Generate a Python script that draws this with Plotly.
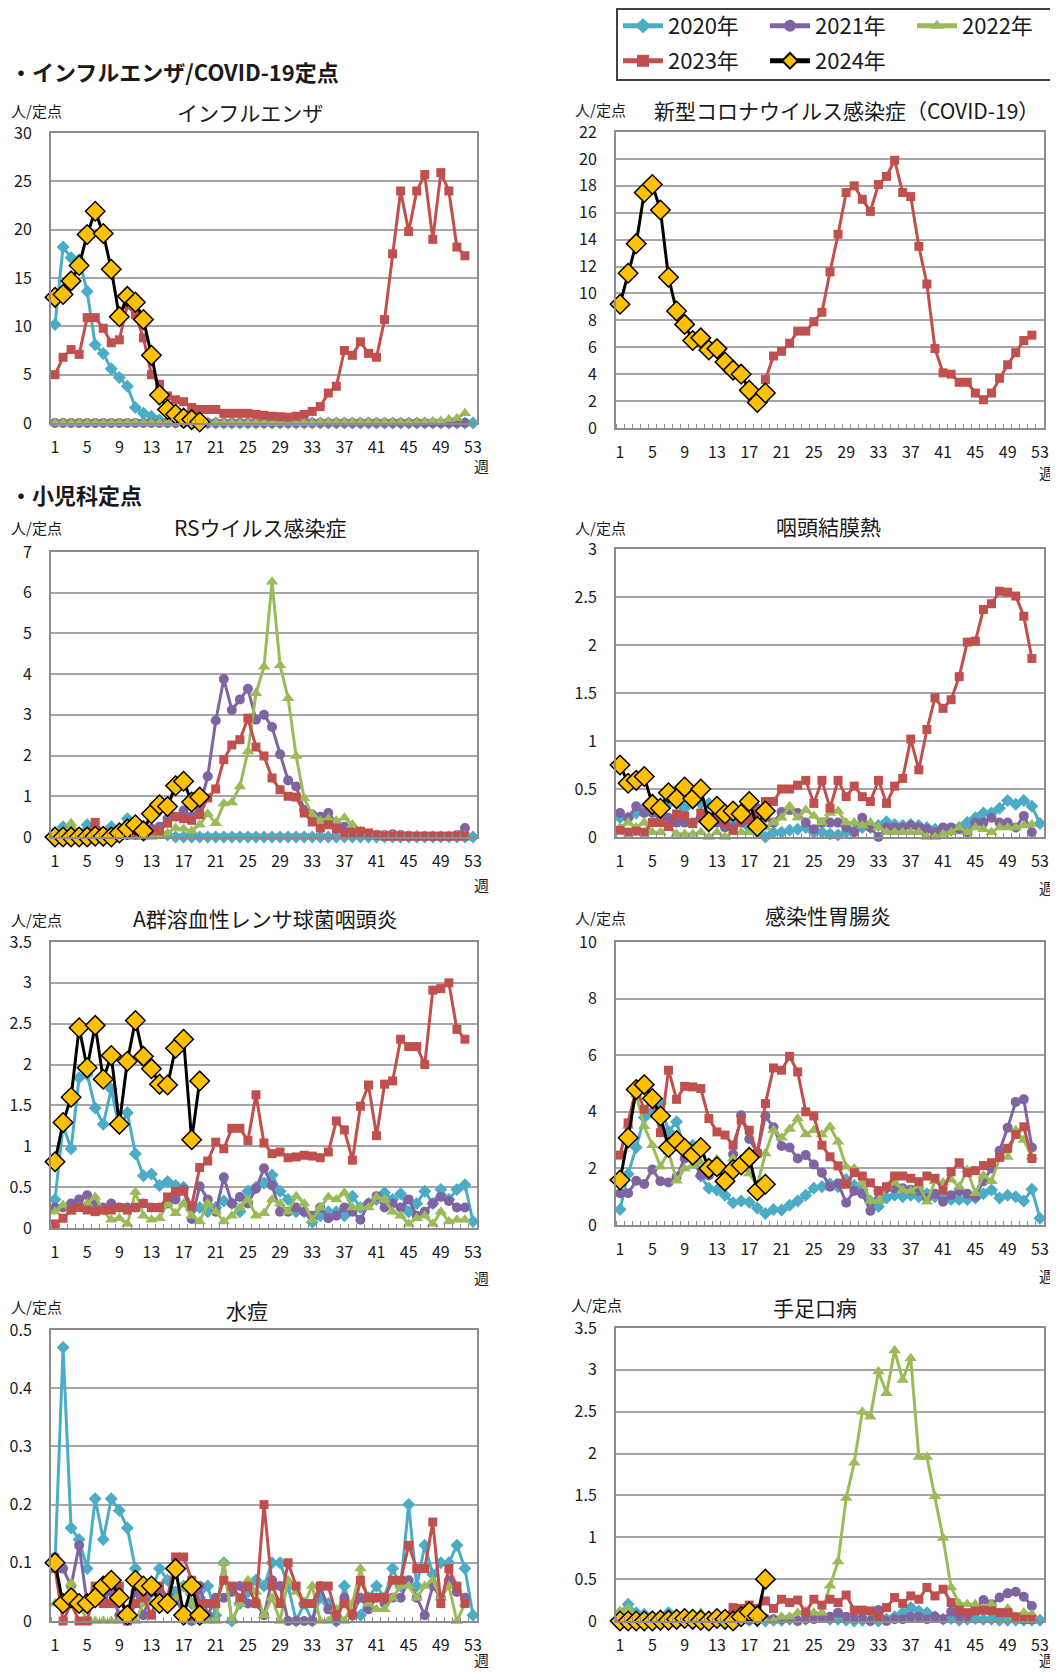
import plotly.graph_objects as go

# ---------------- data ----------------
weeks = list(range(1, 54))
years = ["2020年", "2021年", "2022年", "2023年", "2024年"]

# インフルエンザ
flu_2020 = [10.2, 18.2, 17.1, 16.9, 13.6, 8.1, 7.2, 5.6, 4.7, 3.8, 1.6, 1.0, 0.7, 0.3, 0.1, 0.05, 0.05, 0.0, 0.0, 0.0,
            0.0, 0.0, 0.0, 0.0, 0.0, 0.0, 0.0, 0.0, 0.0, 0.0, 0.0, 0.0, 0.0, 0.0, 0.0, 0.0, 0.0, 0.0, 0.0, 0.0,
            0.0, 0.0, 0.0, 0.0, 0.0, 0.0, 0.0, 0.0, 0.0, 0.0, 0.0, 0.0, 0.0]
flu_2021 = [0.0, 0.0, 0.0, 0.0, 0.0, 0.0, 0.0, 0.0, 0.0, 0.0, 0.0, 0.0, 0.0, 0.0, 0.0, 0.0, 0.0, 0.0, 0.0, 0.0,
            0.0, 0.0, 0.0, 0.0, 0.0, 0.0, 0.0, 0.0, 0.0, 0.0, 0.0, 0.0, 0.0, 0.0, 0.0, 0.0, 0.0, 0.0, 0.0, 0.0,
            0.0, 0.0, 0.0, 0.0, 0.0, 0.0, 0.0, 0.0, 0.0, 0.0, 0.0, 0.0]
flu_2022 = [0.0, 0.0, 0.0, 0.0, 0.0, 0.0, 0.0, 0.0, 0.0, 0.0, 0.0, 0.0, 0.0, 0.0, 0.0, 0.0, 0.0, 0.0, 0.0, 0.0,
            0.0, 0.0, 0.0, 0.0, 0.0, 0.0, 0.0, 0.0, 0.0, 0.0, 0.0, 0.0, 0.0, 0.05, 0.05, 0.05, 0.05, 0.05, 0.05, 0.05,
            0.05, 0.05, 0.05, 0.05, 0.05, 0.05, 0.1, 0.15, 0.2, 0.4, 0.5, 1.0]
flu_2023 = [5.0, 6.8, 7.6, 7.1, 10.9, 10.9, 9.8, 8.3, 8.6, 12.2, 11.2, 8.8, 5.0, 4.0, 2.8, 2.4, 2.2, 1.6, 1.4, 1.4,
            1.4, 1.0, 1.0, 1.0, 1.0, 0.9, 0.8, 0.7, 0.65, 0.6, 0.7, 0.9, 1.2, 1.7, 3.1, 3.8, 7.5, 7.0, 8.4, 7.2,
            6.8, 10.7, 17.5, 24.0, 19.8, 24.0, 25.7, 19.0, 25.9, 24.0, 18.2, 17.3]
flu_2024 = [13.0, 13.3, 14.7, 16.3, 19.5, 21.9, 19.6, 15.9, 11.0, 13.1, 12.5, 10.7, 7.0, 2.9, 1.4, 0.9, 0.5, 0.35, 0.1]

# 新型コロナウイルス感染症
cov_2023 = [None, None, None, None, None, None, None, None, None, None, None, None, None, None, None, None, None, None,
            3.6, 5.35, 5.7, 6.3, 7.2, 7.2, 7.9, 8.6, 11.6, 14.4, 17.5, 18.0, 17.0, 16.1, 18.1, 18.7, 19.9, 17.5,
            17.2, 13.5, 10.7, 5.9, 4.1, 4.0, 3.4, 3.4, 2.6, 2.1, 2.6, 3.7, 4.7, 5.6, 6.5, 6.9]
cov_2024 = [9.2, 11.5, 13.7, 17.5, 18.1, 16.2, 11.2, 8.7, 7.7, 6.5, 6.7, 5.8, 5.9, 4.9, 4.3, 4.0, 2.8, 1.9, 2.6]

# RSウイルス感染症
rs_2020 = [0.1, 0.25, 0.15, 0.1, 0.3, 0.2, 0.1, 0.25, 0.1, 0.45, 0.2, 0.1, 0.2, 0.1, 0.05, 0.0, 0.0, 0.0, 0.0, 0.0,
           0.0, 0.0, 0.0, 0.0, 0.0, 0.0, 0.0, 0.0, 0.0, 0.0, 0.0, 0.0, 0.0, 0.0, 0.0, 0.0, 0.0, 0.0, 0.0, 0.0,
           0.0, 0.0, 0.0, 0.0, 0.0, 0.0, 0.0, 0.0, 0.0, 0.0, 0.0, 0.0, 0.0]
rs_2021 = [0.0, 0.0, 0.0, 0.0, 0.02, 0.0, 0.0, 0.02, 0.0, 0.05, 0.05, 0.1, 0.2, 0.25, 0.45, 0.5, 0.65, 0.5, 0.75, 1.49,
           2.86, 3.88, 3.12, 3.38, 3.64, 2.88, 3.0, 2.7, 2.03, 1.39, 1.24, 0.67, 0.55, 0.5, 0.59, 0.35, 0.25, 0.15, 0.1, 0.05,
           0.05, 0.05, 0.07, 0.05, 0.03, 0.02, 0.02, 0.02, 0.02, 0.02, 0.05, 0.22]
rs_2022 = [0.05, 0.05, 0.34, 0.1, 0.05, 0.05, 0.05, 0.05, 0.02, 0.02, 0.02, 0.0, 0.0, 0.05, 0.1, 0.22, 0.2, 0.15, 0.3, 0.57,
           0.34, 0.82, 0.85, 1.24, 2.1, 3.53, 4.18, 6.27, 4.22, 3.41, 1.99, 0.95, 0.55, 0.4, 0.45, 0.4, 0.47, 0.3, 0.15, 0.05,
           0.05, 0.03, 0.03, 0.03, 0.03, 0.05, 0.03, 0.03, 0.03, 0.03, 0.03, 0.03]
rs_2023 = [0.0, 0.0, 0.0, 0.05, 0.1, 0.36, 0.1, 0.05, 0.05, 0.05, 0.05, 0.1, 0.15, 0.15, 0.34, 0.5, 0.45, 0.41, 0.55, 0.96,
           1.18, 1.9, 2.26, 2.39, 2.92, 2.21, 1.99, 1.45, 1.16, 1.0, 0.98, 0.59, 0.37, 0.22, 0.3, 0.2, 0.1, 0.1, 0.14, 0.1,
           0.05, 0.02, 0.02, 0.02, 0.02, 0.02, 0.02, 0.02, 0.02, 0.02, 0.02, 0.02]
rs_2024 = [0.0, 0.0, 0.0, 0.0, 0.0, 0.02, 0.02, 0.0, 0.1, 0.2, 0.3, 0.15, 0.57, 0.79, 0.75, 1.26, 1.37, 0.86, 0.98]

# 咽頭結膜熱
pcf_2020 = [0.2, 0.2, 0.25, 0.3, 0.3, 0.3, 0.35, 0.35, 0.3, 0.35, 0.35, 0.35, 0.25, 0.2, 0.15, 0.2, 0.1, 0.05, 0.0, 0.05,
            0.05, 0.07, 0.08, 0.1, 0.05, 0.05, 0.03, 0.02, 0.05, 0.07, 0.1, 0.1, 0.12, 0.16, 0.13, 0.12, 0.13, 0.12, 0.1, 0.08,
            0.08, 0.07, 0.1, 0.15, 0.2, 0.25, 0.25, 0.3, 0.38, 0.34, 0.38, 0.32, 0.14]
pcf_2021 = [0.25, 0.2, 0.32, 0.25, 0.25, 0.2, 0.2, 0.15, 0.15, 0.15, 0.2, 0.15, 0.15, 0.1, 0.1, 0.15, 0.2, 0.3, 0.2, 0.15,
            0.26, 0.28, 0.25, 0.15, 0.08, 0.15, 0.15, 0.15, 0.1, 0.05, 0.2, 0.1, 0.0, 0.1, 0.1, 0.1, 0.12, 0.1, 0.08, 0.05,
            0.1, 0.1, 0.08, 0.05, 0.15, 0.15, 0.2, 0.15, 0.15, 0.1, 0.22, 0.05]
pcf_2022 = [0.1, 0.15, 0.1, 0.15, 0.05, 0.05, 0.1, 0.03, 0.03, 0.03, 0.05, 0.0, 0.05, 0.0, 0.05, 0.05, 0.05, 0.05, 0.1, 0.15,
            0.2, 0.32, 0.2, 0.28, 0.22, 0.15, 0.25, 0.27, 0.15, 0.15, 0.12, 0.15, 0.1, 0.05, 0.05, 0.05, 0.05, 0.05, 0.0, 0.0,
            0.03, 0.05, 0.1, 0.05, 0.1, 0.08, 0.05, 0.1, 0.1, 0.1, 0.12, 0.13]
pcf_2023 = [0.07, 0.05, 0.06, 0.05, 0.15, 0.15, 0.11, 0.24, 0.22, 0.14, 0.25, 0.16, 0.2, 0.15, 0.07, 0.16, 0.18, 0.25, 0.37, 0.37,
            0.5, 0.5, 0.54, 0.59, 0.35, 0.59, 0.3, 0.59, 0.42, 0.53, 0.42, 0.37, 0.59, 0.35, 0.53, 0.61, 1.02, 0.7, 1.12, 1.45,
            1.34, 1.43, 1.67, 2.03, 2.04, 2.37, 2.43, 2.56, 2.55, 2.51, 2.3, 1.86]
pcf_2024 = [0.75, 0.56, 0.59, 0.63, 0.34, 0.3, 0.46, 0.4, 0.52, 0.4, 0.5, 0.16, 0.32, 0.24, 0.27, 0.24, 0.37, 0.11, 0.27]

# A群溶血性レンサ球菌咽頭炎
gas_2020 = [0.35, 1.25, 0.97, 1.84, 1.88, 1.47, 1.27, 1.7, 1.22, 1.41, 0.91, 0.64, 0.66, 0.52, 0.57, 0.52, 0.5, 0.22, 0.25, 0.2,
            0.25, 0.33, 0.3, 0.2, 0.45, 0.5, 0.55, 0.65, 0.45, 0.35, 0.2, 0.2, 0.07, 0.15, 0.2, 0.2, 0.15, 0.39, 0.25, 0.3,
            0.35, 0.43, 0.35, 0.42, 0.2, 0.3, 0.45, 0.3, 0.47, 0.35, 0.47, 0.53, 0.08]
gas_2021 = [0.25, 0.25, 0.3, 0.35, 0.4, 0.3, 0.25, 0.3, 0.25, 0.25, 0.25, 0.3, 0.25, 0.25, 0.3, 0.35, 0.47, 0.11, 0.51, 0.35,
            0.2, 0.62, 0.3, 0.38, 0.3, 0.48, 0.73, 0.52, 0.2, 0.2, 0.25, 0.2, 0.15, 0.25, 0.12, 0.15, 0.25, 0.2, 0.1, 0.3,
            0.39, 0.25, 0.3, 0.25, 0.35, 0.15, 0.2, 0.3, 0.38, 0.33, 0.25, 0.25]
gas_2022 = [0.2, 0.28, 0.2, 0.25, 0.3, 0.38, 0.2, 0.1, 0.12, 0.05, 0.44, 0.15, 0.1, 0.12, 0.3, 0.18, 0.3, 0.15, 0.08, 0.3,
            0.2, 0.08, 0.15, 0.25, 0.35, 0.15, 0.18, 0.35, 0.3, 0.2, 0.39, 0.3, 0.1, 0.25, 0.38, 0.35, 0.43, 0.25, 0.25, 0.25,
            0.38, 0.35, 0.2, 0.15, 0.05, 0.12, 0.15, 0.05, 0.2, 0.08, 0.1, 0.1]
gas_2023 = [0.05, 0.12, 0.22, 0.25, 0.22, 0.2, 0.22, 0.22, 0.25, 0.22, 0.25, 0.3, 0.25, 0.25, 0.38, 0.45, 0.45, 0.27, 0.74, 0.82,
            1.05, 0.97, 1.22, 1.22, 1.07, 1.63, 1.04, 0.91, 0.93, 0.86, 0.87, 0.89, 0.88, 0.86, 0.93, 1.31, 1.2, 0.83, 1.49, 1.75,
            1.13, 1.76, 1.8, 2.31, 2.22, 2.22, 2.0, 2.91, 2.93, 3.0, 2.43, 2.31]
gas_2024 = [0.81, 1.29, 1.6, 2.45, 1.96, 2.48, 1.82, 2.11, 1.27, 2.04, 2.54, 2.1, 1.95, 1.76, 1.75, 2.2, 2.31, 1.08, 1.8]

# 感染性胃腸炎
ge_2020 = [0.55, 1.8, 2.74, 3.8, 4.0, 4.3, 3.3, 3.65, 2.65, 2.82, 1.73, 1.3, 1.24, 1.05, 0.79, 0.85, 0.8, 0.6, 0.41, 0.55,
           0.53, 0.7, 0.85, 1.05, 1.3, 1.35, 1.45, 1.35, 1.61, 1.4, 1.25, 0.85, 0.65, 0.95, 1.05, 1.0, 1.05, 1.0, 1.1, 1.0,
           1.1, 0.9, 0.9, 0.9, 0.95, 1.1, 1.24, 0.95, 1.05, 1.0, 0.85, 1.26, 0.24]
ge_2021 = [1.12, 1.12, 1.56, 1.45, 1.96, 1.55, 1.5, 1.7, 2.35, 2.35, 1.76, 1.75, 1.9, 1.65, 2.5, 3.88, 3.04, 2.55, 3.85, 3.45,
           2.79, 2.74, 2.35, 2.47, 2.14, 1.85, 1.35, 1.47, 0.79, 1.2, 1.1, 0.5, 1.2, 1.3, 1.3, 1.3, 1.25, 1.2, 0.95, 1.1,
           0.82, 1.05, 1.2, 1.1, 1.0, 1.55, 2.0, 2.62, 3.44, 4.35, 4.44, 2.74]
ge_2022 = [2.47, 3.5, 4.6, 3.49, 2.82, 2.06, 2.6, 1.56, 2.0, 2.1, 2.2, 2.05, 2.32, 1.8, 2.35, 2.1, 1.82, 1.4, 2.53, 3.35,
           3.08, 3.39, 3.76, 3.2, 3.35, 3.2, 3.47, 2.94, 2.06, 2.0, 1.5, 0.85, 0.85, 1.35, 1.5, 1.24, 1.2, 1.4, 0.82, 1.55,
           1.5, 1.6, 1.35, 1.94, 1.12, 1.75, 1.55, 2.38, 2.4, 3.35, 3.0, 2.41]
ge_2023 = [2.47, 3.61, 4.82, 4.09, 4.4, 3.26, 5.47, 4.44, 4.9, 4.88, 4.82, 3.76, 3.29, 3.18, 2.82, 3.71, 3.35, 2.53, 4.29, 5.55,
           5.47, 5.96, 5.41, 4.0, 3.85, 2.82, 2.41, 2.09, 1.44, 1.85, 1.73, 1.49, 1.21, 1.35, 1.73, 1.73, 1.65, 1.53, 1.73, 1.65,
           1.24, 1.88, 2.2, 1.85, 1.92, 2.1, 2.2, 2.39, 2.71, 3.2, 3.47, 2.35]
ge_2024 = [1.59, 3.08, 4.79, 4.96, 4.47, 3.85, 2.74, 2.98, 2.71, 2.47, 2.74, 2.0, 2.06, 1.55, 1.96, 2.12, 2.39, 1.21, 1.44]

# 水痘
vz_2020 = [0.1, 0.47, 0.16, 0.14, 0.09, 0.21, 0.14, 0.21, 0.19, 0.16, 0.09, 0.05, 0.05, 0.09, 0.07, 0.05, 0.06, 0.03, 0.04, 0.06,
           0.01, 0.1, 0.0, 0.03, 0.05, 0.07, 0.06, 0.1, 0.1, 0.06, 0.0, 0.03, 0.0, 0.04, 0.03, 0.0, 0.06, 0.01, 0.01, 0.04,
           0.06, 0.04, 0.09, 0.06, 0.2, 0.06, 0.13, 0.08, 0.1, 0.1, 0.13, 0.09, 0.01]
vz_2021 = [0.11, 0.09, 0.06, 0.13, 0.03, 0.05, 0.04, 0.05, 0.01, 0.01, 0.05, 0.01, 0.05, 0.05, 0.03, 0.04, 0.01, 0.0, 0.06, 0.01,
           0.04, 0.04, 0.05, 0.06, 0.03, 0.03, 0.01, 0.07, 0.06, 0.0, 0.0, 0.0, 0.0, 0.06, 0.02, 0.0, 0.04, 0.01, 0.04, 0.02,
           0.04, 0.03, 0.04, 0.04, 0.07, 0.04, 0.01, 0.06, 0.04, 0.07, 0.05, 0.04]
vz_2022 = [0.03, 0.03, 0.065, 0.03, 0.0, 0.0, 0.0, 0.0, 0.0, 0.0, 0.0, 0.03, 0.03, 0.03, 0.03, 0.04, 0.06, 0.03, 0.0, 0.0,
           0.0, 0.1, 0.0, 0.03, 0.07, 0.05, 0.01, 0.04, 0.0, 0.07, 0.05, 0.03, 0.06, 0.0, 0.0, 0.02, 0.0, 0.03, 0.09, 0.03,
           0.02, 0.02, 0.04, 0.06, 0.06, 0.04, 0.06, 0.07, 0.04, 0.06, 0.0, 0.03]
vz_2023 = [0.09, 0.0, 0.03, 0.0, 0.0, 0.06, 0.03, 0.03, 0.06, 0.0, 0.03, 0.04, 0.01, 0.06, 0.04, 0.11, 0.11, 0.07, 0.03, 0.03,
           0.03, 0.07, 0.06, 0.04, 0.06, 0.03, 0.2, 0.06, 0.03, 0.1, 0.06, 0.03, 0.03, 0.06, 0.06, 0.01, 0.03, 0.01, 0.07, 0.04,
           0.04, 0.04, 0.07, 0.07, 0.13, 0.09, 0.09, 0.17, 0.03, 0.09, 0.06, 0.03]
vz_2024 = [0.1, 0.03, 0.04, 0.03, 0.03, 0.04, 0.06, 0.07, 0.04, 0.01, 0.07, 0.06, 0.06, 0.03, 0.03, 0.09, 0.01, 0.06, 0.01]

# 手足口病
hfm_2020 = [0.1, 0.2, 0.1, 0.08, 0.05, 0.05, 0.1, 0.05, 0.05, 0.03, 0.05, 0.02, 0.0, 0.02, 0.01, 0.01, 0.01, 0.0, 0.0, 0.01,
            0.01, 0.02, 0.01, 0.02, 0.05, 0.05, 0.02, 0.02, 0.01, 0.0, 0.01, 0.01, 0.0, 0.02, 0.05, 0.1, 0.16, 0.12, 0.1, 0.05,
            0.02, 0.03, 0.01, 0.02, 0.03, 0.02, 0.02, 0.01, 0.01, 0.01, 0.01, 0.01, 0.01]
hfm_2021 = [0.02, 0.02, 0.01, 0.01, 0.01, 0.01, 0.01, 0.01, 0.01, 0.01, 0.01, 0.01, 0.0, 0.0, 0.0, 0.01, 0.01, 0.02, 0.03, 0.02,
            0.02, 0.03, 0.0, 0.02, 0.02, 0.05, 0.05, 0.1, 0.05, 0.03, 0.03, 0.0, 0.13, 0.0, 0.02, 0.02, 0.05, 0.05, 0.02, 0.05,
            0.02, 0.11, 0.05, 0.05, 0.15, 0.25, 0.2, 0.28, 0.33, 0.35, 0.29, 0.18]
hfm_2022 = [0.12, 0.15, 0.05, 0.05, 0.02, 0.02, 0.02, 0.02, 0.05, 0.03, 0.1, 0.0, 0.02, 0.02, 0.02, 0.02, 0.02, 0.02, 0.0, 0.0,
            0.05, 0.05, 0.1, 0.12, 0.1, 0.1, 0.42, 0.71, 1.47, 1.89, 2.5, 2.44, 2.98, 2.72, 3.23, 2.88, 3.14, 1.96, 1.96, 1.49,
            0.99, 0.4, 0.21, 0.2, 0.2, 0.15, 0.2, 0.1, 0.15, 0.05, 0.1, 0.08]
hfm_2023 = [0.03, 0.0, 0.0, 0.0, 0.0, 0.0, 0.0, 0.0, 0.0, 0.0, 0.0, 0.0, 0.0, 0.05, 0.16, 0.15, 0.19, 0.15, 0.24, 0.15,
            0.26, 0.22, 0.25, 0.1, 0.26, 0.19, 0.26, 0.22, 0.31, 0.13, 0.13, 0.12, 0.05, 0.16, 0.28, 0.21, 0.3, 0.26, 0.4, 0.3,
            0.38, 0.22, 0.13, 0.1, 0.12, 0.13, 0.12, 0.1, 0.1, 0.05, 0.02, 0.02]
hfm_2024 = [0.0, 0.0, 0.0, 0.0, 0.0, 0.01, 0.01, 0.02, 0.03, 0.02, 0.01, 0.0, 0.03, 0.02, 0.0, 0.05, 0.11, 0.06, 0.5]

panel_titles = ["インフルエンザ", "新型コロナウイルス感染症（COVID-19）", "RSウイルス感染症", "咽頭結膜熱",
                "A群溶血性レンサ球菌咽頭炎", "感染性胃腸炎", "水痘", "手足口病"]
panel_ymax = [30, 22, 7, 3, 3.5, 10, 0.5, 3.5]
panel_dtick = [5, 2, 1, 0.5, 0.5, 2, 0.1, 0.5]
panel_series = [
    [flu_2020, flu_2021, flu_2022, flu_2023, flu_2024],
    [None, None, None, cov_2023, cov_2024],
    [rs_2020, rs_2021, rs_2022, rs_2023, rs_2024],
    [pcf_2020, pcf_2021, pcf_2022, pcf_2023, pcf_2024],
    [gas_2020, gas_2021, gas_2022, gas_2023, gas_2024],
    [ge_2020, ge_2021, ge_2022, ge_2023, ge_2024],
    [vz_2020, vz_2021, vz_2022, vz_2023, vz_2024],
    [hfm_2020, hfm_2021, hfm_2022, hfm_2023, hfm_2024],
]
section_headers = ["・インフルエンザ/COVID-19定点", "・小児科定点"]

# ---------------- layout (page pixels) ----------------
PAGE_W, PAGE_H = 1058, 1672
OFF = 8                      # default body margin of the html page
W, H = PAGE_W - OFF, PAGE_H - OFF
# plot areas: (left, right, top, bottom) in page px
boxes = [
    (51, 477, 133, 423), (616, 1044, 132, 428),
    (51, 477, 552, 837), (616, 1044, 549, 837),
    (51, 477, 942, 1228), (616, 1044, 942, 1225),
    (51, 477, 1330, 1621), (616, 1044, 1328, 1621),
]
title_pos = [(250, 112), (846, 110), (260, 527), (828, 526), (265, 918), (828, 915), (247, 1310), (815, 1307)]
unit_pos = [(9, 111), (573, 110), (9, 527), (573, 527), (9, 919), (573, 917), (9, 1306), (569, 1304)]
week_pos = [(481, 465), (1046, 472), (482, 884), (1046, 887), (482, 1277), (1046, 1275), (482, 1659), (1046, 1659)]
section_pos = [(8, 71), (8, 494)]

styles = [
    dict(line=dict(color="#4BACC6", width=3), marker=dict(symbol="diamond", size=10, color="#4BACC6")),
    dict(line=dict(color="#8064A2", width=3), marker=dict(symbol="circle", size=10, color="#8064A2")),
    dict(line=dict(color="#9BBB59", width=3), marker=dict(symbol="triangle-up", size=11, color="#9BBB59")),
    dict(line=dict(color="#C0504D", width=3), marker=dict(symbol="square", size=9, color="#C0504D")),
    dict(line=dict(color="#000000", width=3),
         marker=dict(symbol="diamond", size=15, color="#FFC000", line=dict(color="#000000", width=1.5))),
]

FONT = "Noto Sans CJK JP, Noto Sans, sans-serif"
TXT = "#1a1a1a"
GRID = "#a6a6a6"
FRAME = "#8c8c8c"

def px(x):
    return (x - OFF) / W

def py(y):
    return 1 - (y - OFF) / H

fig = go.Figure()
layout = {}
annotations = []

for i, series in enumerate(panel_series):
    n = i + 1
    xa = "x" if n == 1 else f"x{n}"
    ya = "y" if n == 1 else f"y{n}"
    for k, vals in enumerate(series):
        if vals is None:
            continue
        fig.add_trace(go.Scatter(
            x=weeks[:len(vals)], y=vals, mode="lines+markers", name=years[k],
            xaxis=xa, yaxis=ya, cliponaxis=False, hoverinfo="skip",
            showlegend=(n == 1), legend=("legend" if k < 3 else "legend2"),
            **styles[k]))
    l, r, t, b = boxes[i]
    layout["xaxis" if n == 1 else f"xaxis{n}"] = dict(
        domain=[px(l), px(r)], anchor=ya, range=[0.5, 53.5],
        tickmode="linear", tick0=1, dtick=4, ticks="", showgrid=False, zeroline=False,
        showline=True, mirror=True, linecolor=FRAME, linewidth=2,
        ticklabelstandoff=9, tickfont=dict(family=FONT, size=16, color=TXT),
        minor=dict(tickmode="linear", tick0=0.5, dtick=1, ticks="inside", ticklen=4,
                   tickcolor=FRAME, tickwidth=1, showgrid=False))
    layout["yaxis" if n == 1 else f"yaxis{n}"] = dict(
        domain=[py(b), py(t)], anchor=xa, range=[0, panel_ymax[i]],
        tickmode="linear", tick0=0, dtick=panel_dtick[i], ticks="",
        showgrid=True, gridcolor=GRID, gridwidth=1.5, zeroline=False,
        showline=True, mirror=True, linecolor=FRAME, linewidth=2,
        ticklabelstandoff=14, tickfont=dict(family=FONT, size=16, color=TXT))
    tx, ty = title_pos[i]
    annotations.append(dict(text=panel_titles[i], x=px(tx), y=py(ty), xref="paper", yref="paper",
                            xanchor="center", yanchor="middle", showarrow=False,
                            font=dict(family=FONT, size=21, color=TXT)))
    ux, uy = unit_pos[i]
    annotations.append(dict(text="人/定点", x=px(ux), y=py(uy), xref="paper", yref="paper",
                            xanchor="left", yanchor="middle", showarrow=False,
                            font=dict(family=FONT, size=15, color=TXT)))
    wx, wy = week_pos[i]
    annotations.append(dict(text="週", x=px(wx), y=py(wy), xref="paper", yref="paper",
                            xanchor="center", yanchor="middle", showarrow=False,
                            font=dict(family=FONT, size=15, color=TXT)))

for s, (sx, sy) in zip(section_headers, section_pos):
    annotations.append(dict(text=f"<b>{s}</b>", x=px(sx), y=py(sy), xref="paper", yref="paper",
                            xanchor="left", yanchor="middle", showarrow=False,
                            font=dict(family=FONT, size=22, color=TXT)))

legend_common = dict(orientation="h", xanchor="left", yanchor="top", entrywidth=92,
                     entrywidthmode="pixels", itemwidth=40, itemsizing="constant",
                     bgcolor="rgba(0,0,0,0)",
                     font=dict(family=FONT, size=22, color=TXT), borderwidth=0)

fig.update_layout(
    width=W, height=H, margin=dict(l=0, r=0, t=0, b=0, autoexpand=False),
    paper_bgcolor="white", plot_bgcolor="white",
    annotations=annotations,
    legend=dict(x=px(618), y=py(5), **legend_common),
    legend2=dict(x=px(618), y=py(40), **legend_common),
    shapes=[dict(type="rect", xref="paper", yref="paper", x0=px(617), x1=px(1055),
                 y0=py(80), y1=py(9), line=dict(color="#404040", width=2))],
    **layout)

fig.write_html("out.html")
